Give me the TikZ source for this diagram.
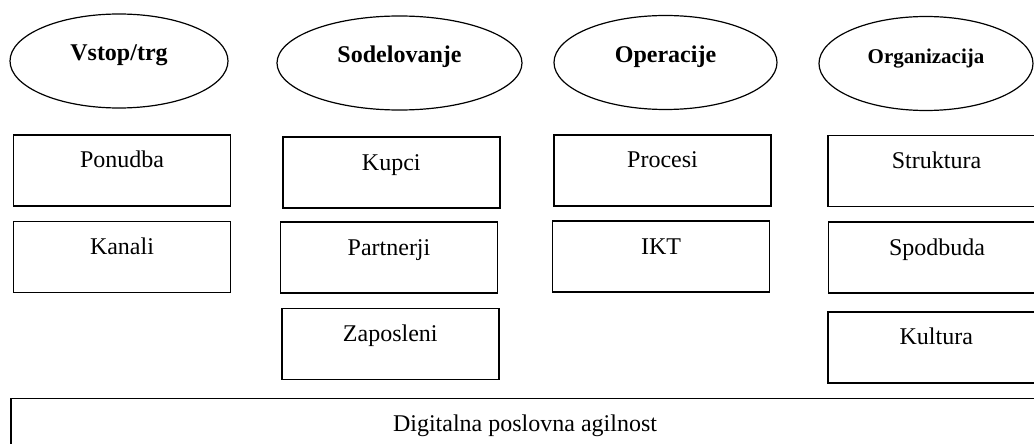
\documentclass[tikz,border=0pt]{standalone}
\usepackage{fontspec}
\setmainfont{Liberation Serif}
\usepackage{tikz}
\usetikzlibrary{shapes.geometric}
\tikzset{dim/.style={draw,ellipse,line width=0.6pt,inner sep=0pt,
        minimum width=#1,minimum height=47pt,
        text height=6pt,text depth=6pt,
        font=\fontsize{12}{14}\selectfont\bfseries},
    blk/.style={draw,rectangle,line width=0.8pt,inner sep=0pt,
        minimum width=108.5pt,text height=16.5pt,text depth=19pt,
        font=\fontsize{12}{14}\selectfont}
    }

\begin{document}
\begin{tikzpicture}[x=0.5pt,y=-0.5pt]
    \useasboundingbox (0,0) rectangle (1034,444);
    \clip (0,0) rectangle (1034,444);

    \node[dim=109pt] (vstop) at (119,61) {Vstop/trg};
    \node[dim=122.5pt] (sodel) at (399.5,63) {Sodelovanje};
    \node[dim=111.5pt] (oper) at (665.5,62.5) {Operacije};
    \node[dim=107pt,font=\fontsize{10.5}{12}\selectfont\bfseries] (org) at (926,63.5) {Organizacija};

    \node[blk] (ponudba) at (122,170.5) {Ponudba};
    \node[blk] (kanali) at (122,257) {Kanali};

    \node[blk] (kupci) at (391.3,172.5) {Kupci};
    \node[blk] (partnerji) at (389,257.7) {Partnerji};
    \node[blk] (zaposleni) at (390.3,344) {Zaposleni};

    \node[blk] (procesi) at (662.5,170.5) {Procesi};
    \node[blk] (ikt) at (661,256.5) {IKT};

    \node[blk] (struktura) at (936.5,171) {Struktura};
    \node[blk] (spodbuda) at (937,257.7) {Spodbuda};
    \node[blk] (kultura) at (936.3,347.2) {Kultura};

    \node[blk,minimum width=514pt] (agilnost) at (525,433.8) {Digitalna poslovna agilnost};
\end{tikzpicture}
\end{document}
